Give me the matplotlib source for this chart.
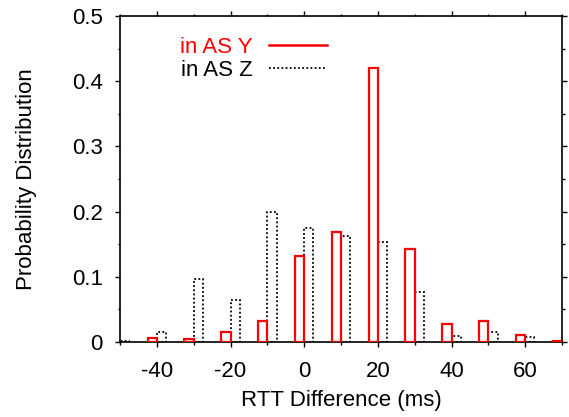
import matplotlib
matplotlib.use("Agg")
import matplotlib.pyplot as plt
from matplotlib.lines import Line2D
from matplotlib.ticker import MultipleLocator, FuncFormatter
import numpy as np

plt.rcParams['font.family'] = ['Liberation Sans', 'DejaVu Sans']

# RTT difference bins (ms)
bins = [-50, -40, -30, -20, -10, 0, 10, 20, 30, 40, 50, 60, 70]
as_y = [0.0, 0.006, 0.004, 0.016, 0.032, 0.132, 0.168, 0.421, 0.143, 0.028, 0.032, 0.010, 0.002]
as_z = [0.002, 0.015, 0.097, 0.065, 0.200, 0.175, 0.163, 0.154, 0.076, 0.009, 0.015, 0.008, 0.0]
labels = ["in AS Y", "in AS Z"]

FS = 16

fig = plt.figure(figsize=(5.69, 4.17), dpi=100)
ax = fig.add_axes([0.2109, 0.1799, 0.7768, 0.7817])

x = np.array(bins, dtype=float)
bw = 2.5
ax.bar(x - bw / 2, as_y, width=bw, facecolor='none', edgecolor='red',
       linewidth=1.6, zorder=3)
ax.bar(x + bw / 2, as_z, width=bw, facecolor='none', edgecolor='black',
       linewidth=1.3, linestyle=(0, (1, 1.3)), zorder=2)

ax.set_xlim(-50, 70)
ax.set_ylim(0, 0.5)
ax.xaxis.set_major_locator(MultipleLocator(20))
ax.xaxis.set_minor_locator(MultipleLocator(10))
ax.yaxis.set_major_locator(MultipleLocator(0.1))
ax.yaxis.set_minor_locator(MultipleLocator(0.05))
ax.yaxis.set_major_formatter(FuncFormatter(lambda v, p: "0" if abs(v) < 1e-9 else f"{v:g}"))
ax.xaxis.set_major_formatter(FuncFormatter(lambda v, p: f"{v:g}"))

ax.tick_params(axis='both', which='both', direction='out', top=True, right=True,
               labelsize=FS, width=1.0, colors='black')
ax.tick_params(axis='both', which='major', length=3.5)
ax.tick_params(axis='both', which='minor', length=1.8)
ax.tick_params(axis='y', which='major', pad=9)
ax.tick_params(axis='x', which='major', pad=10)
for s in ax.spines.values():
    s.set_linewidth(1.2)

ax.set_xlabel("RTT Difference (ms)", fontsize=FS, labelpad=6)
ax.set_ylabel("Probability Distribution", fontsize=FS, labelpad=25)

handles = [Line2D([], [], color='red', lw=1.8),
           Line2D([], [], color='black', lw=1.3, linestyle=(0, (1, 1.3)))]
leg = ax.legend(handles, labels, loc='upper left', bbox_to_anchor=(0.136, 0.937),
                frameon=False, markerfirst=False, fontsize=FS, handlelength=2.6,
                handletextpad=0.73, labelspacing=0.12, borderpad=0.0,
                borderaxespad=0.0, labelcolor=['red', 'black'])

fig.savefig("out.png", dpi=100)
